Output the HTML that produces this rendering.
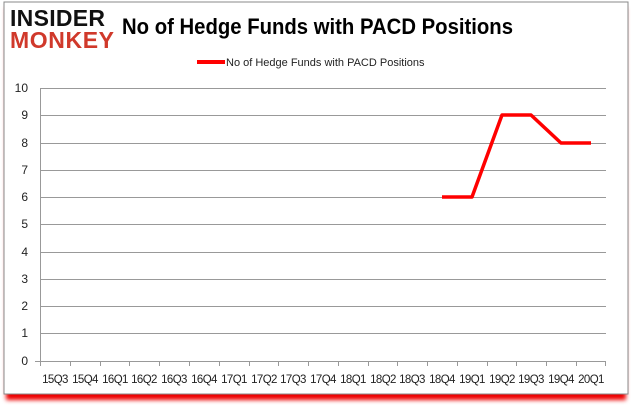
<!DOCTYPE html>
<html><head><style>
body{margin:0;background:#fff;width:635px;height:405px;overflow:hidden;font-family:"Liberation Sans",sans-serif}
</style></head><body>
<svg width="635" height="405" xmlns="http://www.w3.org/2000/svg">
<defs><filter id="s" x="-5%" y="-5%" width="110%" height="115%"><feGaussianBlur stdDeviation="2"/></filter></defs>
<rect x="6" y="8" width="620" height="392" fill="#e00" filter="url(#s)"/>
<rect x="4" y="2" width="624" height="392" fill="#fff" stroke="#888" stroke-width="1"/>
<text x="10" y="26" font-size="23" font-weight="bold" fill="#111" textLength="95">INSIDER</text>
<text x="10" y="48" font-size="23" font-weight="bold" fill="#d0392b" textLength="104">MONKEY</text>
<text x="122" y="34" font-size="22" font-weight="bold" fill="#000" textLength="391" lengthAdjust="spacingAndGlyphs">No of Hedge Funds with PACD Positions</text>
<line x1="197" y1="62" x2="225" y2="62" stroke="#f00" stroke-width="4"/>
<text x="226" y="66" font-size="11" fill="#222">No of Hedge Funds with PACD Positions</text>
<g stroke="#999" stroke-width="1">
<line x1="40" y1="88.5" x2="606" y2="88.5"/><line x1="40" y1="115.5" x2="606" y2="115.5"/><line x1="40" y1="143.5" x2="606" y2="143.5"/><line x1="40" y1="170.5" x2="606" y2="170.5"/><line x1="40" y1="197.5" x2="606" y2="197.5"/><line x1="40" y1="224.5" x2="606" y2="224.5"/><line x1="40" y1="252.5" x2="606" y2="252.5"/><line x1="40" y1="279.5" x2="606" y2="279.5"/><line x1="40" y1="306.5" x2="606" y2="306.5"/><line x1="40" y1="333.5" x2="606" y2="333.5"/><line x1="35" y1="361.5" x2="606" y2="361.5"/>
<line x1="40.5" y1="88" x2="40.5" y2="366"/>
</g>
<g stroke="#999" stroke-width="1">
<path d="M70.5 361v5M100.5 361v5M129.5 361v5M159.5 361v5M189.5 361v5M219.5 361v5M249.5 361v5M278.5 361v5M308.5 361v5M338.5 361v5M368.5 361v5M397.5 361v5M427.5 361v5M457.5 361v5M487.5 361v5M516.5 361v5M546.5 361v5M576.5 361v5M605.5 361v5"/>
</g>
<g font-size="12" fill="#222" text-anchor="end">
<text x="28" y="92">10</text><text x="28" y="119">9</text><text x="28" y="147">8</text><text x="28" y="174">7</text><text x="28" y="201">6</text><text x="28" y="228">5</text><text x="28" y="256">4</text><text x="28" y="283">3</text><text x="28" y="310">2</text><text x="28" y="337">1</text><text x="28" y="365">0</text>
</g>
<g font-size="11.5" fill="#222" text-anchor="middle" letter-spacing="-0.6">
<text x="55" y="383">15Q3</text><text x="85" y="383">15Q4</text><text x="115" y="383">16Q1</text><text x="144" y="383">16Q2</text><text x="174" y="383">16Q3</text><text x="204" y="383">16Q4</text><text x="234" y="383">17Q1</text><text x="264" y="383">17Q2</text><text x="293" y="383">17Q3</text><text x="323" y="383">17Q4</text><text x="353" y="383">18Q1</text><text x="383" y="383">18Q2</text><text x="412" y="383">18Q3</text><text x="442" y="383">18Q4</text><text x="472" y="383">19Q1</text><text x="502" y="383">19Q2</text><text x="531" y="383">19Q3</text><text x="561" y="383">19Q4</text><text x="591" y="383">20Q1</text>
</g>
<polyline points="442,197 472,197 502,115 531,115 561,143 591,143" fill="none" stroke="#f00" stroke-width="3.5" stroke-linejoin="round"/>
</svg>
</body></html>
